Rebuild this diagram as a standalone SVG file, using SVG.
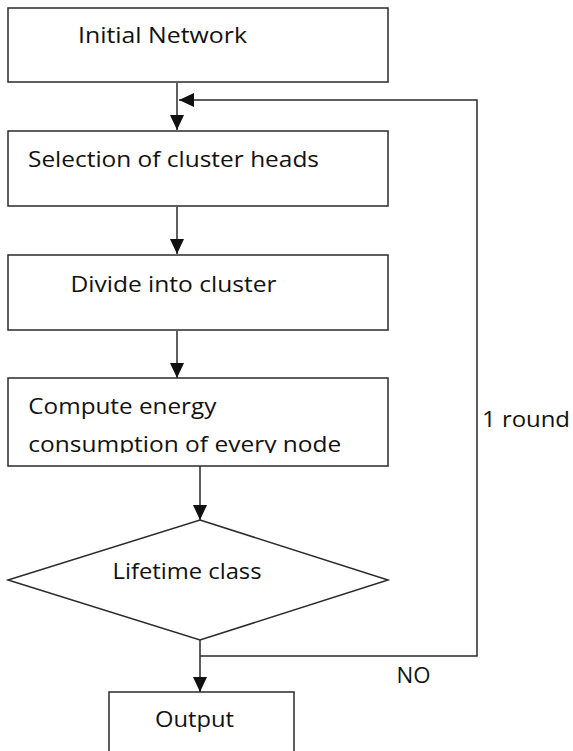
<svg xmlns="http://www.w3.org/2000/svg" width="573" height="751" viewBox="0 0 573 751">
<style>
.box{fill:#fff;stroke:#2a2a2a;stroke-width:1.5}
.lbl{font-family:"Open Sans","Liberation Sans",sans-serif;font-size:21px;fill:#111}
.conn{fill:none;stroke:#2a2a2a;stroke-width:1.5}
</style>
<defs>
<marker id="arr" markerUnits="userSpaceOnUse" markerWidth="16" markerHeight="16" viewBox="0 0 16 16" refX="15" refY="8" orient="auto">
<path d="M0,1 L15,8 L0,15 Z" fill="#111"/>
</marker>
<clipPath id="cut"><rect x="0" y="380" width="400" height="73"/></clipPath>
</defs>
<rect width="573" height="751" fill="#fff"/>
<g id="connectors">
<path class="conn" d="M177,83 L177,130" marker-end="url(#arr)"/>
<path class="conn" d="M200,656 L477,656 L477,100 L179,100" marker-end="url(#arr)"/>
<path class="conn" d="M177,207 L177,254" marker-end="url(#arr)"/>
<path class="conn" d="M177,331 L177,378" marker-end="url(#arr)"/>
<path class="conn" d="M200,466 L200,520" marker-end="url(#arr)"/>
<path class="conn" d="M200,640 L200,692" marker-end="url(#arr)"/>
</g>
<g id="initial-network">
<rect class="box" x="8" y="8" width="380" height="74"/>
<text class="lbl" x="78" y="43" textLength="169" lengthAdjust="spacingAndGlyphs">Initial Network</text>
</g>
<g id="selection">
<rect class="box" x="8" y="131" width="380" height="75"/>
<text class="lbl" x="28" y="166.5" textLength="291" lengthAdjust="spacingAndGlyphs">Selection of cluster heads</text>
</g>
<g id="divide">
<rect class="box" x="8" y="255" width="380" height="75"/>
<text class="lbl" x="70.5" y="291.5" textLength="206" lengthAdjust="spacingAndGlyphs">Divide into cluster</text>
</g>
<g id="compute">
<rect class="box" x="8" y="378" width="380" height="88"/>
<text class="lbl" x="28.3" y="414" textLength="188" lengthAdjust="spacingAndGlyphs">Compute energy</text>
<text class="lbl" x="28.3" y="451.5" textLength="313" lengthAdjust="spacingAndGlyphs" clip-path="url(#cut)">consumption of every node</text>
</g>
<g id="lifetime">
<polygon class="box" points="200,520 388,580 200,640 8,580"/>
<text class="lbl" x="112.5" y="579" textLength="149" lengthAdjust="spacingAndGlyphs">Lifetime class</text>
</g>
<g id="output">
<rect class="box" x="109" y="692" width="185" height="80"/>
<text class="lbl" x="155" y="727" textLength="79" lengthAdjust="spacingAndGlyphs">Output</text>
</g>
<g id="labels">
<text class="lbl" x="482" y="426.5" textLength="88" lengthAdjust="spacingAndGlyphs">1 round</text>
<text class="lbl" x="396.5" y="682.5" textLength="34" lengthAdjust="spacingAndGlyphs">NO</text>
</g>
</svg>
